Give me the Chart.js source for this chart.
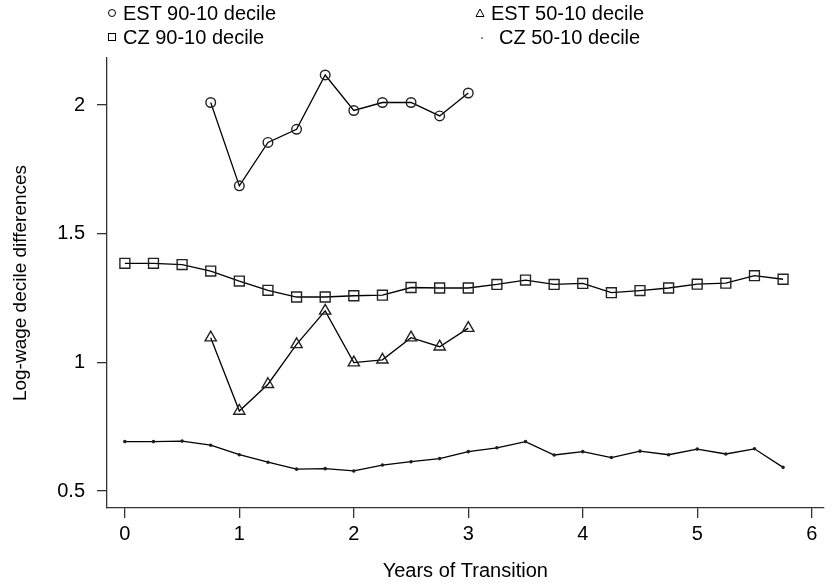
<!DOCTYPE html>
<html>
<head>
<meta charset="utf-8">
<script src="https://cdn.jsdelivr.net/npm/chart.js@4.4.1/dist/chart.umd.min.js"></script>
<style>
  html, body { margin: 0; padding: 0; background: #fff; }
  #wrap { position: relative; width: 832px; height: 583px; }
  canvas { position: absolute; left: 0; top: 0; }
  .leg { position: absolute; font-family: "Liberation Sans", Arial, Helvetica, sans-serif;
         font-size: 20px; line-height: 20px; color: #000; white-space: nowrap; }
  .leg svg { position: absolute; left: 0; top: 5px; }
  .leg span { position: absolute; left: 16px; top: 0; }
</style>
</head>
<body>
<div id="wrap">
  <canvas id="chart" width="832" height="583"></canvas>
  <div class="leg" style="left:107px;top:3px;">
    <svg width="10" height="10"><circle cx="5" cy="5" r="3.5" fill="none" stroke="#000" stroke-width="1"/></svg>
    <span>EST 90-10 decile</span>
  </div>
  <div class="leg" style="left:107px;top:27px;">
    <svg width="10" height="10"><rect x="1.5" y="1.5" width="7" height="7" fill="none" stroke="#000" stroke-width="1"/></svg>
    <span>CZ 90-10 decile</span>
  </div>
  <div class="leg" style="left:475px;top:3px;">
    <svg width="10" height="10"><polygon points="5,1 9,8.5 1,8.5" fill="none" stroke="#000" stroke-width="1"/></svg>
    <span>EST 50-10 decile</span>
  </div>
  <div class="leg" style="left:475px;top:27px;">
    <svg width="10" height="10"><circle cx="7" cy="6" r="0.8" fill="#000"/></svg>
    <span style="left:24px;">CZ 50-10 decile</span>
  </div>
</div>
<script>
// dati
const estYears = [0.75, 1, 1.25, 1.5, 1.75, 2, 2.25, 2.5, 2.75, 3];
const czYears = [0, 0.25, 0.5, 0.75, 1, 1.25, 1.5, 1.75, 2, 2.25, 2.5, 2.75,
                 3, 3.25, 3.5, 3.75, 4, 4.25, 4.5, 4.75, 5, 5.25, 5.5, 5.75];

const est9010 = [2.01, 1.686, 1.855, 1.906, 2.117, 1.979, 2.01, 2.01, 1.958, 2.047];
const est5010 = [1.096, 0.811, 0.915, 1.07, 1.2, 0.999, 1.01, 1.096, 1.061, 1.133];
const cz9010 = [1.385, 1.385, 1.38, 1.355, 1.316, 1.28, 1.254, 1.254, 1.259, 1.261, 1.291, 1.289,
                1.289, 1.303, 1.32, 1.303, 1.307, 1.271, 1.279, 1.289, 1.304, 1.308, 1.337, 1.323];
const cz5010 = [0.692, 0.692, 0.694, 0.678, 0.641, 0.612, 0.585, 0.587, 0.578, 0.601, 0.614, 0.626,
                0.653, 0.668, 0.692, 0.64, 0.653, 0.63, 0.655, 0.641, 0.663, 0.644, 0.664, 0.592];

const xTicks = [0, 1, 2, 3, 4, 5, 6];
const yTicks = [0.5, 1, 1.5, 2];

const FONT = '"Liberation Sans", Arial, Helvetica, sans-serif';

function pts(xs, ys) {
    return xs.map((x, i) => ({ x: x, y: ys[i] }));
}

function serie(label, xs, ys, style, radius, fill) {
    return {
        label: label,
        data: pts(xs, ys),
        showLine: true,
        borderColor: '#000',
        borderWidth: 1.3,
        tension: 0,
        pointStyle: style,
        pointRadius: radius,
        pointBorderColor: '#222',
        pointBorderWidth: 1.4,
        pointBackgroundColor: fill,
        pointHoverRadius: radius
    };
}

const axisCommon = {
    border: { display: true, color: '#333', width: 1.3 },
    grid: { display: true, drawOnChartArea: false, drawTicks: true, tickLength: 10, color: '#333', lineWidth: 1.3 }
};

new Chart(document.getElementById('chart'), {
    type: 'scatter',
    data: {
        datasets: [
            serie('EST 90-10 decile', estYears, est9010, 'circle', 4.8, 'rgba(0,0,0,0)'),
            serie('CZ 90-10 decile', czYears, cz9010, 'rect', 7, 'rgba(0,0,0,0)'),
            serie('EST 50-10 decile', estYears, est5010, 'triangle', 6.5, 'rgba(0,0,0,0)'),
            serie('CZ 50-10 decile', czYears, cz5010, 'circle', 1.1, '#000')
        ]
    },
    options: {
        responsive: false,
        animation: false,
        devicePixelRatio: 1,
        layout: { padding: { top: 58, right: 2, left: 0, bottom: 0 } },
        plugins: { legend: { display: false }, tooltip: { enabled: false } },
        scales: {
            x: {
                type: 'linear',
                min: -0.156,
                max: 6.104,
                border: axisCommon.border,
                grid: axisCommon.grid,
                afterBuildTicks: s => { s.ticks = xTicks.map(v => ({ value: v })); },
                afterFit: s => { s.height = 75; },
                ticks: { color: '#000', padding: 4, maxRotation: 0, font: { family: FONT, size: 20 },
                         callback: v => String(v) },
                title: {
                    display: true, text: 'Years of Transition', color: '#000',
                    font: { family: FONT, size: 20, lineHeight: 1.2 },
                    padding: { top: 0, bottom: 0 }
                }
            },
            y: {
                type: 'linear',
                min: 0.434,
                max: 2.183,
                border: axisCommon.border,
                grid: axisCommon.grid,
                afterBuildTicks: s => { s.ticks = yTicks.map(v => ({ value: v })); },
                afterFit: s => { s.width = 107; },
                ticks: { color: '#000', padding: 12, font: { family: FONT, size: 20 },
                         callback: v => String(v) },
                title: {
                    display: true, text: 'Log-wage decile differences', color: '#000',
                    font: { family: FONT, size: 19, lineHeight: 1.2 },
                    padding: { top: 9, bottom: 0 }
                }
            }
        }
    }
});
</script>
</body>
</html>
